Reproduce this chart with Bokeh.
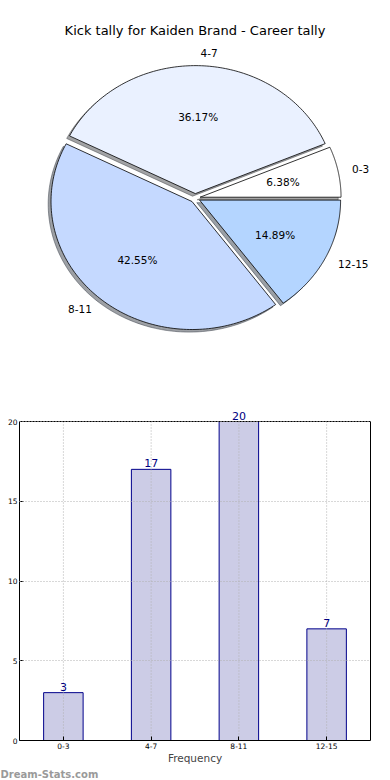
import numpy as np
from bokeh.plotting import figure
from bokeh.models import (ColumnDataSource, Label, FixedTicker, Range1d, FactorRange,
                          LinearAxis, Title, Span)
from bokeh.layouts import column
from bokeh.embed import file_html
from bokeh.resources import INLINE
from bokeh.core.properties import value

# ---------------- data ----------------
title_text = "Kick tally for Kaiden Brand - Career tally"
categories = ["0-3", "4-7", "8-11", "12-15"]
tallies = [3, 17, 20, 7]
pie_colors = ["#ffffff", "#eaf1ff", "#c5d9ff", "#b4d5ff"]
y_ticks = [0, 5, 10, 15, 20]
x_label = "Frequency"
y_label = "Stat Instance Tally"
watermark = "Dream-Stats.com"

FONT = "DejaVu Sans"
W = 390
PIE_H = 395
BAR_H = 385
BL, BR = 19, 20            # shared left / right borders (frames are aligned)
FW = W - BL - BR           # frame width
EXPLODE = 0.035
SX, SY = 141.0, 128.0      # px per data unit (stretched pie)
CX, CY = 194.7 - BL, 197.6  # pie centre in frame px (from left / from top)

# ---------------- pie ----------------
pie = figure(width=W, height=PIE_H, output_backend="svg", toolbar_location=None,
             x_range=Range1d(-CX / SX, (FW - CX) / SX),
             y_range=Range1d(-(PIE_H - CY) / SY, CY / SY),
             min_border_left=BL, min_border_right=BR, min_border_top=0,
             min_border_bottom=0)
pie.axis.visible = False
pie.grid.visible = False
pie.outline_line_color = None

vals = np.array(tallies, dtype=float)
frac = vals / vals.sum()
edges = np.concatenate([[0.0], np.cumsum(frac)]) * 2 * np.pi


def darker(hexcol, f=0.3):
    h = hexcol.lstrip("#")
    r, g, b = (int(h[i:i + 2], 16) for i in (0, 2, 4))
    return "#%02x%02x%02x" % (int(r * f), int(g * f), int(b * f))


wx, wy, shx, shy, shc = [], [], [], [], []
pct_x, pct_y, pct_t = [], [], []
lab_x, lab_y, lab_t, lab_a = [], [], [], []
for i in range(len(vals)):
    t = np.linspace(edges[i], edges[i + 1], 120)
    mid = 0.5 * (edges[i] + edges[i + 1])
    ox, oy = EXPLODE * np.cos(mid), EXPLODE * np.sin(mid)
    px = np.concatenate([[ox], ox + np.cos(t), [ox]])
    py = np.concatenate([[oy], oy + np.sin(t), [oy]])
    wx.append(px)
    wy.append(py)
    shx.append(px - 0.02)
    shy.append(py - 0.02)
    shc.append(darker(pie_colors[i]))
    pct_x.append(ox + 0.6 * np.cos(mid))
    pct_y.append(oy + 0.6 * np.sin(mid))
    pct_t.append("%.2f%%" % (frac[i] * 100))
    lx = ox + 1.1 * np.cos(mid)
    lab_x.append(lx)
    lab_y.append(oy + 1.1 * np.sin(mid))
    lab_t.append(categories[i])
    lab_a.append("left" if lx > 0 else "right")

pie.patches(xs=shx, ys=shy, fill_color=shc, fill_alpha=0.5,
            line_color=shc, line_alpha=0.5, line_width=1)
pie.patches(xs=wx, ys=wy, fill_color=pie_colors, line_color="black", line_width=0.8)
pie.text(x=pct_x, y=pct_y, text=pct_t, text_align="center", text_baseline="middle",
         text_font=value(FONT), text_font_size="10.5px", text_color="black")
pie.text(x=lab_x, y=lab_y, text=lab_t, text_align=lab_a, text_baseline="middle",
         text_font=value(FONT), text_font_size="10.5px", text_color="black")

pie.add_layout(Label(x=194.5 - BL, y=PIE_H - 30, x_units="screen", y_units="screen",
                     text=title_text, text_align="center", text_baseline="middle",
                     text_font=FONT, text_font_size="13px", text_color="black"))

# ---------------- bars ----------------
BT, BB = 6, 40                      # top / bottom borders of bar figure
frame_h = BAR_H - BT - BB           # 339 px
axes_h = 319                        # px covered by 0..max tick (frame drawn inside)
y_top = y_ticks[-1] * frame_h / axes_h

src = ColumnDataSource(dict(cat=categories, val=tallies, lbl=[str(v) for v in tallies]))
bar = figure(width=W, height=BAR_H, output_backend="svg", toolbar_location=None,
             x_range=FactorRange(*categories), y_range=Range1d(0, y_top),
             min_border_left=BL, min_border_right=BR, min_border_top=BT,
             min_border_bottom=BB)
bar.outline_line_color = None
bar.xgrid.visible = False

bar.vbar(x="cat", top="val", width=0.45, source=src,
         fill_color="#ccccE6", line_color="#00008b", line_width=1)

# dotted grid drawn over the bars (as in the reference)
bar.segment(x0=categories, y0=[y_ticks[0]] * len(categories), x1=categories,
            y1=[y_ticks[-1]] * len(categories), line_color="#b0b0b0",
            line_dash="1 2", line_width=1)
bar.ygrid.ticker = FixedTicker(ticks=y_ticks)
bar.ygrid.grid_line_color = "#b0b0b0"
bar.ygrid.grid_line_dash = "1 2"
bar.ygrid.level = "overlay"

# top edge of the axes box
bar.add_layout(Span(location=y_ticks[-1], dimension="width", line_color="black",
                    line_width=1))

bar.text(x="cat", y="val", text="lbl", source=src, text_align="center",
         text_baseline="bottom", y_offset=-2, text_font=value(FONT),
         text_font_size="11px", text_color="#000080")

bar.yaxis.ticker = FixedTicker(ticks=y_ticks)
bar.yaxis.bounds = (y_ticks[0], y_ticks[-1])
for ax in (bar.xaxis[0], bar.yaxis[0]):
    ax.major_label_text_font = FONT
    ax.major_label_text_font_size = "7.5px"
    ax.major_label_text_color = "black"
    ax.major_tick_in = 4
    ax.major_tick_out = 0
    ax.minor_tick_in = 0
    ax.minor_tick_out = 0
    ax.axis_line_color = "black"
    ax.major_tick_line_color = "black"
    ax.major_label_standoff = 2
bar.xaxis.axis_label = x_label
bar.xaxis.axis_label_text_font = FONT
bar.xaxis.axis_label_text_font_size = "10.5px"
bar.xaxis.axis_label_text_font_style = "normal"
bar.xaxis.axis_label_standoff = 0

right = LinearAxis(ticker=FixedTicker(ticks=[]), bounds=(y_ticks[0], y_ticks[-1]),
                   major_tick_in=0, major_tick_out=0, minor_tick_in=0, minor_tick_out=0,
                   axis_line_color="black", major_label_standoff=0)
bar.add_layout(right, "right")

bar.add_layout(Title(text=watermark, align="left", offset=-BL, standoff=0,
                     text_font=FONT, text_font_size="10px", text_font_style="bold",
                     text_color="#9a9a9a"), "below")

# y-axis title: sits in the narrow strip left of the tick labels
bar.add_layout(Label(x=8 - BL, y=axes_h / 2, x_units="screen", y_units="screen",
                     text=y_label, angle=np.pi / 2, text_align="center",
                     text_baseline="bottom", text_font=FONT, text_font_size="6.5px",
                     text_color="black"))

layout = column(pie, bar, spacing=0)
open("out.html", "w").write(file_html(layout, INLINE))
